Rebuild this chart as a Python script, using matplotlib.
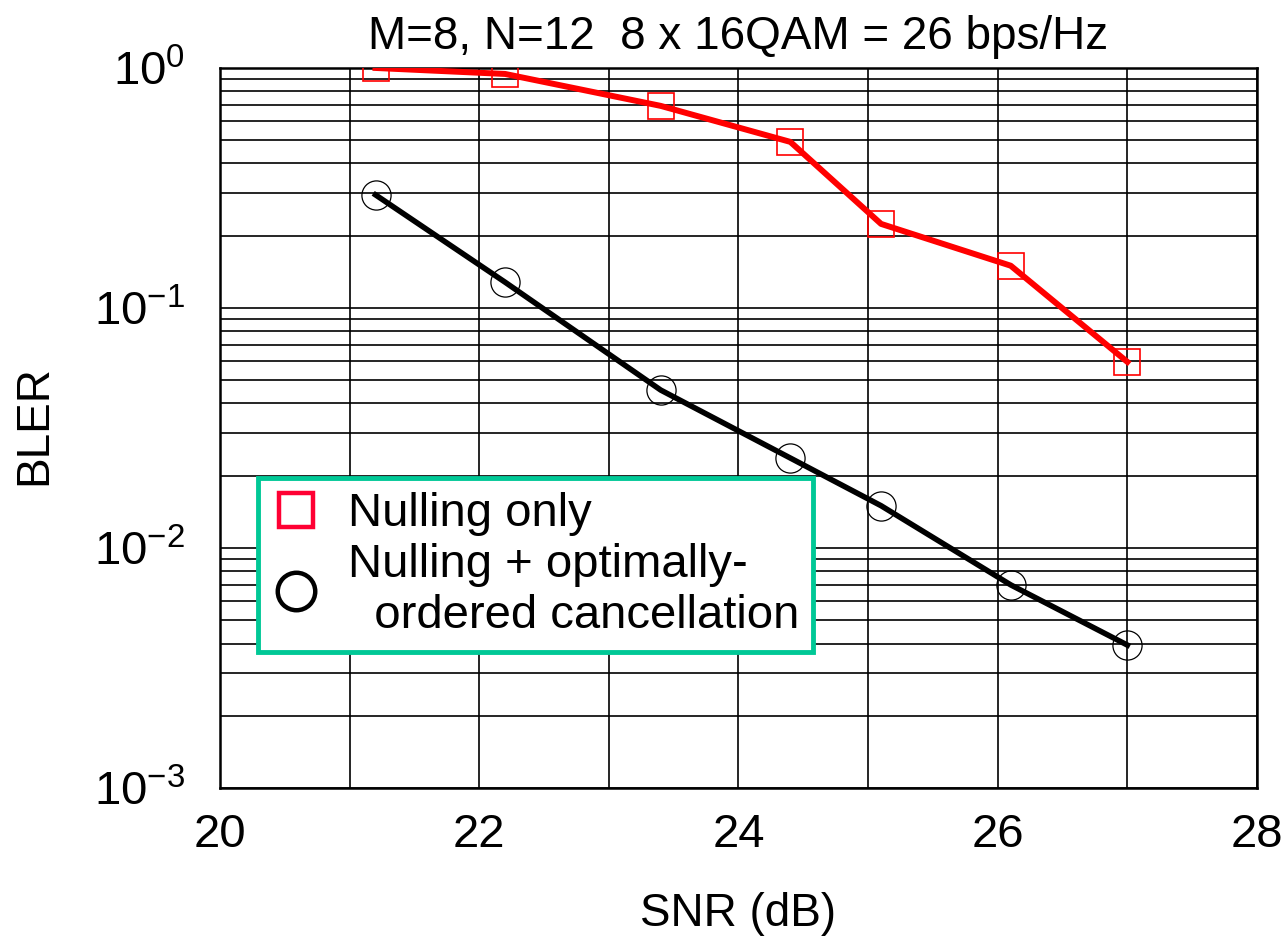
import matplotlib
matplotlib.use("Agg")
import matplotlib.pyplot as plt
from matplotlib.lines import Line2D
import numpy as np

# SNR (dB) and block error rates
snr = [21.2, 22.2, 23.4, 24.4, 25.1, 26.1, 27.0]
bler_nulling = [1.0, 0.944, 0.695, 0.492, 0.224, 0.150, 0.0596]
bler_ordered = [0.296, 0.128, 0.0455, 0.0237, 0.0150, 0.00702, 0.00394]

title = "M=8, N=12  8 x 16QAM = 26 bps/Hz"
label_nulling = "Nulling only"
label_ordered = "Nulling + optimally-\n  ordered cancellation"
xticks = [20, 22, 24, 26, 28]
yticks = [1e-3, 1e-2, 1e-1, 1]
ytick_labels = [r"$10^{-3}$", r"$10^{-2}$", r"$10^{-1}$", r"$10^{0}$"]

plt.rcParams["font.family"] = "Liberation Sans"
plt.rcParams["mathtext.fontset"] = "custom"
plt.rcParams["mathtext.rm"] = "Liberation Sans"
plt.rcParams["mathtext.it"] = "Liberation Sans:italic"
plt.rcParams["mathtext.bf"] = "Liberation Sans:bold"

fig = plt.figure(figsize=(12.84, 9.36), dpi=100)
ax = fig.add_axes([0.1713, 0.1581, 0.8077, 0.7693])

ax.plot(snr, bler_nulling, color="#ff0000", lw=4.3, marker="s", ms=19,
        mfc="none", mec="#ff0000", mew=1.2, zorder=3)
ax.plot(snr, bler_ordered, color="black", lw=4.0, marker="o", ms=21,
        mfc="none", mec="black", mew=0.9, zorder=3)

ax.set_yscale("log")
ax.set_xlim(20, 28)
ax.set_ylim(1e-3, 1)
ax.set_xticks(xticks)
ax.set_xticks(np.arange(21, 28, 2), minor=True)
ax.grid(True, which="both", axis="both", color="black", lw=1.2)
ax.set_axisbelow(True)
ax.tick_params(which="both", length=0, labelsize=34)
ax.tick_params(axis="x", pad=18)
ax.tick_params(axis="y", pad=25)
ax.set_yticks(yticks)
ax.set_yticklabels(ytick_labels)
for sp in ax.spines.values():
    sp.set_linewidth(1.8)

ax.set_title(title, fontsize=33, pad=14)
ax.set_xlabel("SNR (dB)", fontsize=33, va="top")
ax.xaxis.set_label_coords(0.5, -0.145)
ax.set_ylabel("BLER", fontsize=33, va="bottom")
ax.yaxis.set_label_coords(-0.158, 0.504)

handles = [
    Line2D([], [], ls="none", marker="s", ms=25, mfc="none",
           mec="#ff0033", mew=3.2),
    Line2D([], [], ls="none", marker="o", ms=27, mfc="none",
           mec="black", mew=3.2),
]
leg = ax.legend(handles, [label_nulling, label_ordered], loc="upper left",
                bbox_to_anchor=(0.0366, 0.4306), borderaxespad=0,
                fontsize=34, frameon=True, fancybox=False, framealpha=1,
                handlelength=1.0, handletextpad=0.6, borderpad=0.3,
                labelspacing=0.15)
leg.get_frame().set_edgecolor("#00c896")
leg.get_frame().set_linewidth(3.5)

fig.savefig("out.png", dpi=100)
